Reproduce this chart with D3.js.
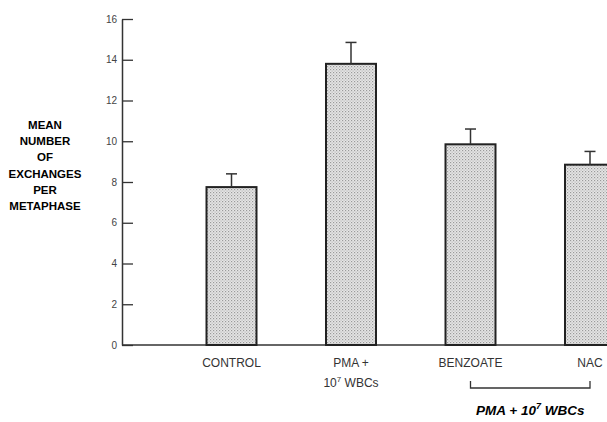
<!DOCTYPE html>
<html>
<head>
<meta charset="utf-8">
<script src="https://cdn.jsdelivr.net/npm/d3@7"></script>
<style>
  body { margin: 0; background: #fff; }
  svg { display: block; font-family: "Liberation Sans", Arial, sans-serif; }
</style>
</head>
<body>
<div id="chart"></div>
<script>
// values
var categories = ["CONTROL", "PMA", "BENZOATE", "NAC"];
var meanValues = [7.75, 13.8, 9.85, 8.85];
var errorTops  = [8.4, 14.85, 10.6, 9.5];
var yTicks     = [0, 2, 4, 6, 8, 10, 12, 14, 16];
var yTitle     = ["MEAN", "NUMBER", "OF", "EXCHANGES", "PER", "METAPHASE"];
var groupedCats = ["BENZOATE", "NAC"];

var W = 607, H = 422;
var margin = {top: 19, left: 122, bottom: 77};
var barW = 50;

var svg = d3.select("#chart").append("svg")
    .attr("width", W).attr("height", H);

// stippled fill like the print
var defs = svg.append("defs");
var pat = defs.append("pattern")
    .attr("id", "stipple")
    .attr("width", 3).attr("height", 3)
    .attr("patternUnits", "userSpaceOnUse");
pat.append("rect").attr("width", 3).attr("height", 3).attr("fill", "#e6e6e6");
pat.append("rect").attr("x", 0).attr("y", 0).attr("width", 1.2).attr("height", 1.2).attr("fill", "#9a9a9a");
pat.append("rect").attr("x", 1.5).attr("y", 1.5).attr("width", 1.2).attr("height", 1.2).attr("fill", "#b5b5b5");

var y = d3.scaleLinear().domain([0, 16]).range([H - margin.bottom, margin.top]);
var x = d3.scalePoint().domain(categories).range([231.5, 590]);

// y axis, ticks pointing into the plot
var yAxis = svg.append("g")
    .attr("transform", "translate(" + margin.left + ",0)")
    .call(d3.axisRight(y).tickValues(yTicks).tickSize(11).tickSizeOuter(0).tickFormat(d3.format("d")));
yAxis.select(".domain").attr("stroke", "#333").attr("stroke-width", 1.5);
yAxis.selectAll(".tick line").attr("stroke", "#333").attr("stroke-width", 1.3);
yAxis.selectAll(".tick text")
    .attr("x", -5).attr("text-anchor", "end")
    .attr("fill", "#444").style("font-size", "10px");

// baseline
svg.append("line")
    .attr("x1", margin.left).attr("x2", W)
    .attr("y1", y(0)).attr("y2", y(0))
    .attr("stroke", "#333").attr("stroke-width", 1.5);

// bars
svg.selectAll("rect.bar")
    .data(categories)
  .enter().append("rect")
    .attr("class", "bar")
    .attr("x", function(d) { return x(d) - barW / 2; })
    .attr("y", function(d, i) { return y(meanValues[i]); })
    .attr("width", barW)
    .attr("height", function(d, i) { return y(0) - y(meanValues[i]); })
    .attr("fill", "url(#stipple)")
    .attr("stroke", "#222").attr("stroke-width", 2);

// error bars (upper half only)
var err = svg.selectAll("g.err")
    .data(categories)
  .enter().append("g").attr("class", "err")
    .attr("stroke", "#333").attr("stroke-width", 1.5);
err.append("line")
    .attr("x1", function(d) { return x(d); }).attr("x2", function(d) { return x(d); })
    .attr("y1", function(d, i) { return y(meanValues[i]); })
    .attr("y2", function(d, i) { return y(errorTops[i]); });
err.append("line")
    .attr("x1", function(d) { return x(d) - 5.5; }).attr("x2", function(d) { return x(d) + 5.5; })
    .attr("y1", function(d, i) { return y(errorTops[i]); })
    .attr("y2", function(d, i) { return y(errorTops[i]); });

// category labels
var labY = y(0) + 22;
var labels = svg.append("g")
    .attr("fill", "#333").style("font-size", "12px").attr("text-anchor", "middle");
labels.append("text").attr("x", x("CONTROL")).attr("y", labY).text("CONTROL");
labels.append("text").attr("x", x("PMA")).attr("y", labY).text("PMA +");
var l2 = labels.append("text").attr("x", x("PMA")).attr("y", labY + 20);
l2.append("tspan").text("10");
l2.append("tspan").attr("dy", -5).style("font-size", "8px").text("7");
l2.append("tspan").attr("dy", 5).text(" WBCs");
labels.append("text").attr("x", x("BENZOATE")).attr("y", labY).text("BENZOATE");
labels.append("text").attr("x", x("NAC")).attr("y", labY).text("NAC");

// bracket under the treated groups
var bx0 = x(groupedCats[0]), bx1 = x(groupedCats[1]), by = y(0) + 43;
svg.append("path")
    .attr("d", "M" + bx0 + "," + (by - 7) + "V" + by + "H" + bx1 + "V" + (by - 7))
    .attr("fill", "none").attr("stroke", "#333").attr("stroke-width", 1.3);
var gl = svg.append("text")
    .attr("x", (bx0 + bx1) / 2).attr("y", by + 27)
    .attr("text-anchor", "middle")
    .style("font-size", "13.5px").style("font-weight", "bold").style("font-style", "italic");
gl.append("tspan").text("PMA + 10");
gl.append("tspan").attr("dy", -6).style("font-size", "9px").text("7");
gl.append("tspan").attr("dy", 6).text(" WBCs");

// y title, stacked words
svg.append("g")
    .attr("text-anchor", "middle")
    .style("font-size", "11.5px").style("font-weight", "bold")
  .selectAll("text")
    .data(yTitle)
  .enter().append("text")
    .attr("x", 45)
    .attr("y", function(d, i) { return 129 + i * 16.2; })
    .text(function(d) { return d; });
</script>
</body>
</html>
